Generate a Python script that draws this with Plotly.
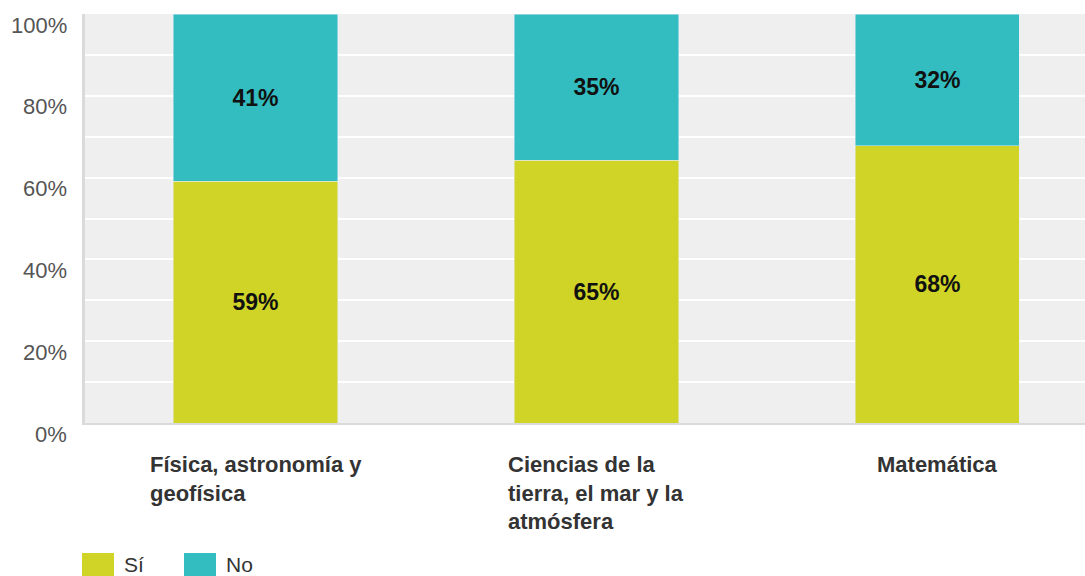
import plotly.graph_objects as go

categories = ["Física, astronomía y<br>geofísica",
              "Ciencias de la<br>tierra, el mar y la<br>atmósfera",
              "Matemática"]
si_values = [59.1, 64.3, 67.8]
no_values = [40.9, 35.7, 32.2]
si_labels = ["59%", "65%", "68%"]
no_labels = ["41%", "35%", "32%"]
series_names = ["Sí", "No"]
y_tickvals = [0, 20, 40, 60, 80, 100]
y_ticktext = ["0%", "20%", "40%", "60%", "80%", "100%"]

YELLOW = "#cfd427"
TEAL = "#33bdc0"
FONT = "Liberation Sans, Arial, sans-serif"

x_idx = list(range(len(categories)))

fig = go.Figure()
fig.add_trace(go.Bar(x=x_idx, y=si_values, name=series_names[0], marker_color=YELLOW,
                     text=si_labels, textposition="inside", insidetextanchor="middle",
                     textfont=dict(family=FONT, size=23, color="#111", weight="bold"),
                     width=0.481, hoverinfo="skip"))
fig.add_trace(go.Bar(x=x_idx, y=no_values, name=series_names[1], marker_color=TEAL,
                     text=no_labels, textposition="inside", insidetextanchor="middle",
                     textfont=dict(family=FONT, size=23, color="#111", weight="bold"),
                     width=0.481, hoverinfo="skip"))

# y tick labels (drawn slightly below their gridlines, as in the reference)
for v, t in zip(y_tickvals, y_ticktext):
    fig.add_annotation(x=0, xref="paper", y=v, yref="y", text=t, showarrow=False,
                       xanchor="right", yanchor="middle", xshift=-16, yshift=-11,
                       font=dict(family=FONT, size=22, color="#555"))

# category labels (left-aligned lines, centered block)
for i, c in enumerate(categories):
    fig.add_annotation(x=i, xref="x", y=-0.066, yref="paper", text=c, showarrow=False,
                       xanchor="center", yanchor="top", align="left",
                       font=dict(family=FONT, size=22, color="#333", weight="bold"))

# custom legend
colors = [YELLOW, TEAL]
legend_x = [-0.003, 0.099]
for name, col, lx in zip(series_names, colors, legend_x):
    fig.add_shape(type="rect", xref="paper", yref="paper", x0=lx, x1=lx + 0.032,
                  y0=-0.318, y1=-0.40, fillcolor=col, line=dict(width=0), layer="above")
    fig.add_annotation(x=lx + 0.040, xref="paper", y=-0.347, yref="paper", text=name,
                       showarrow=False, xanchor="left", yanchor="middle",
                       font=dict(family=FONT, size=21, color="#333"))

fig.update_layout(
    barmode="stack",
    width=1085, height=576,
    margin=dict(l=85, r=0, t=14, b=153),
    plot_bgcolor="#efefef", paper_bgcolor="white",
    showlegend=False,
    font=dict(family=FONT),
    xaxis=dict(range=[-0.5, 2.4326], showticklabels=False, showgrid=False,
               showline=True, linecolor="#dadada", linewidth=2, zeroline=False, fixedrange=True),
    yaxis=dict(range=[0, 100], tickvals=y_tickvals, showticklabels=False,
               showgrid=True, gridcolor="white", gridwidth=2,
               minor=dict(dtick=10, showgrid=True, gridcolor="white", gridwidth=2),
               showline=True, linecolor="#dadada", linewidth=3, zeroline=False,
               ticks="", fixedrange=True),
)

# remove the page's default body margin and scrollbars so the figure fills the window
fig.write_html("out.html",
               config={"displayModeBar": False, "staticPlot": True},
               post_script="document.body.style.margin='0';document.body.style.overflow='hidden';")
